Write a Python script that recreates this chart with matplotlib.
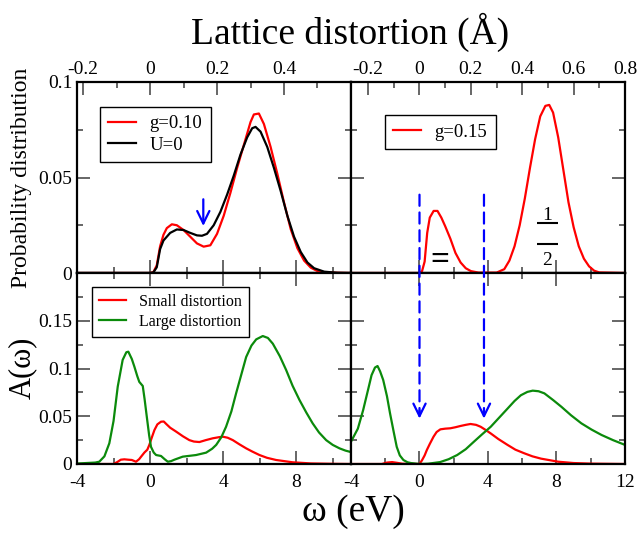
import matplotlib
matplotlib.use('Agg')
import matplotlib.pyplot as plt
from matplotlib.patches import ConnectionPatch
from matplotlib.ticker import FixedLocator, FixedFormatter, MultipleLocator, NullFormatter

plt.rcParams['font.family'] = ['Liberation Serif', 'DejaVu Serif']

# ---------------- data ----------------
# top-left: probability distribution vs lattice distortion (Angstrom)
tl_red_d = [-0.218, 0.0, 0.01, 0.02, 0.03, 0.04, 0.05, 0.065, 0.08, 0.10, 0.12, 0.14, 0.16, 0.18, 0.20,
            0.22, 0.24, 0.26, 0.28, 0.30, 0.31, 0.325, 0.34, 0.36, 0.38, 0.40, 0.42, 0.44, 0.46, 0.48,
            0.50, 0.53, 0.60]
tl_red_p = [0, 0, 0.0005, 0.004, 0.014, 0.020, 0.0235, 0.0255, 0.025, 0.0225, 0.019, 0.0155, 0.0138,
            0.0145, 0.0205, 0.030, 0.042, 0.055, 0.067, 0.079, 0.083, 0.0835, 0.078, 0.066, 0.052, 0.037,
            0.023, 0.013, 0.0065, 0.0028, 0.001, 0.0002, 0]
tl_blk_d = [-0.218, 0.0, 0.01, 0.02, 0.03, 0.04, 0.06, 0.08, 0.10, 0.12, 0.14, 0.155, 0.17, 0.19, 0.21,
            0.23, 0.25, 0.27, 0.29, 0.305, 0.315, 0.33, 0.35, 0.37, 0.39, 0.41, 0.43, 0.45, 0.47, 0.49,
            0.52, 0.56, 0.60]
tl_blk_p = [0, 0, 0.0003, 0.003, 0.0125, 0.017, 0.021, 0.0228, 0.0225, 0.021, 0.0197, 0.0195, 0.0205,
            0.025, 0.032, 0.041, 0.051, 0.062, 0.071, 0.0758, 0.0765, 0.074, 0.066, 0.055, 0.043, 0.030,
            0.019, 0.011, 0.0055, 0.0025, 0.0007, 0.0001, 0]

# top-right
tr_red_d = [-0.267, 0.0, 0.01, 0.02, 0.03, 0.04, 0.055, 0.07, 0.085, 0.10, 0.12, 0.14, 0.16, 0.18, 0.20,
            0.23, 0.30, 0.33, 0.35, 0.37, 0.39, 0.41, 0.43, 0.45, 0.47, 0.49, 0.505, 0.52, 0.54, 0.56,
            0.58, 0.60, 0.62, 0.64, 0.66, 0.68, 0.70, 0.80]
tr_red_p = [0, 0, 0.001, 0.006, 0.021, 0.029, 0.0325, 0.0325, 0.029, 0.0245, 0.018, 0.0105, 0.0055,
            0.0025, 0.001, 0.0002, 0.0002, 0.002, 0.0065, 0.014, 0.025, 0.039, 0.055, 0.070, 0.082,
            0.0875, 0.088, 0.084, 0.071, 0.054, 0.037, 0.024, 0.014, 0.0075, 0.0035, 0.0012, 0.0003, 0]

# bottom-left: spectral function vs omega (eV)
bl_grn_w = [-4, -3.5, -3.0, -2.78, -2.5, -2.23, -2.0, -1.77, -1.5, -1.3, -1.19, -1.0, -0.86, -0.7,
            -0.59, -0.4, -0.3, -0.18, -0.05, 0.05, 0.2, 0.33, 0.6, 0.8, 0.97, 1.15, 1.33, 1.79, 2.52,
            3.07, 3.4, 3.62, 3.9, 4.16, 4.45, 4.71, 5.0, 5.26, 5.55, 5.81, 6.17, 6.45, 6.72, 7.1, 7.45,
            7.8, 8.18, 8.55, 8.9, 9.25, 9.64, 10.0, 10.37, 10.7, 11.0]
bl_grn_a = [0.0005, 0.001, 0.0015, 0.0024, 0.008, 0.0217, 0.045, 0.081, 0.109, 0.117, 0.1176, 0.11,
            0.102, 0.092, 0.086, 0.0817, 0.068, 0.0496, 0.030, 0.018, 0.012, 0.0094, 0.0084, 0.005,
            0.0024, 0.003, 0.0045, 0.0077, 0.0094, 0.0119, 0.016, 0.020, 0.028, 0.039, 0.055, 0.074,
            0.094, 0.112, 0.124, 0.1305, 0.134, 0.132, 0.126, 0.113, 0.0984, 0.082, 0.067, 0.054,
            0.0426, 0.033, 0.025, 0.020, 0.0164, 0.014, 0.0125]
bl_red_w = [-4, -2.0, -1.8, -1.6, -1.41, -1.2, -1.0, -0.77, -0.6, -0.49, -0.31, -0.15, -0.04, 0.1, 0.24,
            0.4, 0.6, 0.75, 0.88, 1.1, 1.42, 1.8, 2.15, 2.4, 2.7, 3.05, 3.43, 3.75, 3.98, 4.25, 4.53,
            4.9, 5.26, 5.6, 5.99, 6.4, 6.9, 7.8, 8.8, 10.0, 11.0]
bl_red_a = [0, 0, 0.002, 0.0045, 0.0049, 0.0045, 0.0042, 0.0024, 0.005, 0.0077, 0.012, 0.015, 0.020,
            0.028, 0.0356, 0.0415, 0.0443, 0.0445, 0.042, 0.038, 0.034, 0.029, 0.025, 0.0235, 0.023,
            0.025, 0.0269, 0.028, 0.0286, 0.0275, 0.025, 0.0205, 0.0164, 0.013, 0.0094, 0.0065, 0.0042,
            0.0018, 0.0006, 0.0002, 0]

# bottom-right
br_grn_w = [-4, -3.6, -3.29, -3.0, -2.8, -2.6, -2.45, -2.3, -2.12, -1.9, -1.72, -1.5, -1.33, -1.15,
            -0.94, -0.7, -0.5, 0, 0.5, 1.2, 1.7, 2.2, 2.7, 3.18, 3.65, 4.16, 4.65, 5.14, 5.55, 5.92, 6.3,
            6.61, 6.95, 7.29, 7.8, 8.28, 8.85, 9.45, 10.05, 10.63, 11.3, 12]
br_grn_a = [0.0234, 0.037, 0.0565, 0.078, 0.093, 0.101, 0.1026, 0.097, 0.088, 0.071, 0.053, 0.033,
            0.018, 0.009, 0.0042, 0.0018, 0.001, 0, 0.0003, 0.002, 0.005, 0.0094, 0.0155, 0.0234, 0.031,
            0.039, 0.0485, 0.058, 0.066, 0.072, 0.0755, 0.0768, 0.0762, 0.074, 0.067, 0.060, 0.051,
            0.0426, 0.036, 0.0304, 0.025, 0.020]
br_red_w = [-4, -2.2, -1.9, -1.6, -1.3, -1.0, 0, 0.15, 0.3, 0.43, 0.6, 0.82, 1.0, 1.22, 1.5, 1.8, 2.1,
            2.39, 2.7, 2.98, 3.3, 3.57, 3.85, 4.16, 4.6, 5.14, 5.6, 6.12, 6.6, 7.1, 8.1, 9.0, 10.0, 12]
br_red_a = [0, 0, 0.0015, 0.002, 0.0012, 0.0003, 0, 0.004, 0.009, 0.0147, 0.021, 0.0286, 0.0335,
            0.0363, 0.037, 0.0374, 0.0385, 0.0398, 0.041, 0.0419, 0.041, 0.039, 0.0358, 0.032, 0.0262,
            0.020, 0.015, 0.0112, 0.008, 0.0056, 0.0024, 0.001, 0.0004, 0]

# ticks / labels
top_y_ticks = [0, 0.05, 0.1]
top_y_labels = ['0', '0.05', '0.1']
bot_y_ticks = [0, 0.05, 0.1, 0.15]
bot_y_labels = ['0', '0.05', '0.1', '0.15']
left_w_ticks = [-4, 0, 4, 8]
left_w_labels = ['-4', '0', '4', '8']
right_w_ticks = [-4, 0, 4, 8, 12]
right_w_labels = ['-4', '0', '4', '8', '12']
tl_d_ticks = [-0.2, 0, 0.2, 0.4]
tl_d_labels = ['-0.2', '0', '0.2', '0.4']
tr_d_ticks = [-0.2, 0, 0.2, 0.4, 0.6, 0.8]
tr_d_labels = ['-0.2', '0', '0.2', '0.4', '0.6', '0.8']

# energy (eV) per unit distortion (Angstrom) for each column
ratio_left = 18.33
ratio_right = 15.0
w_left = (-4, 11)
w_right = (-4, 12)
arrow_positions_d = [0.0, 0.251]   # blue dashed arrows in right column (Angstrom)

# "1 / 2" annotation in top-right (distortion, probability)
frac_x = 0.497
frac_bar_span = (0.4576, 0.540)
frac_bar_levels = [0.0262, 0.0152]

RED = '#ff0000'
GRN = '#0b8a0b'
BLUE = '#0000ff'
TICKC = '#5a5a5a'

# ---------------- figure ----------------
W, H = 637, 533
fig = plt.figure(figsize=(W / 100, H / 100), dpi=100)

def frac(x0, y0, x1, y1):
    return [x0 / W, 1 - y1 / H, (x1 - x0) / W, (y1 - y0) / H]

ax_tl = fig.add_axes(frac(77, 82, 351, 273))
ax_tr = fig.add_axes(frac(351, 82, 625, 273))
ax_bl = fig.add_axes(frac(77, 273, 351, 464))
ax_br = fig.add_axes(frac(351, 273, 625, 464))

TICKFS = 14

def style_common(ax):
    for s in ax.spines.values():
        s.set_linewidth(1.6)
        s.set_color('black')
    ax.tick_params(which='both', direction='in', color=TICKC, width=1.3, labelsize=TICKFS)
    ax.tick_params(which='major', length=9.5)
    ax.tick_params(which='minor', length=4.5)

# ---- top panels ----
for ax, ratio, wr, dticks, dlabels in [
        (ax_tl, ratio_left, w_left, tl_d_ticks, tl_d_labels),
        (ax_tr, ratio_right, w_right, tr_d_ticks, tr_d_labels)]:
    style_common(ax)
    ax.set_xlim(wr[0] / ratio, wr[1] / ratio)
    ax.set_ylim(0, 0.1)
    ax.xaxis.tick_top()
    ax.xaxis.set_label_position('top')
    ax.xaxis.set_major_locator(FixedLocator(dticks))
    ax.xaxis.set_major_formatter(FixedFormatter(dlabels))
    ax.xaxis.set_minor_locator(MultipleLocator(0.1))
    ax.tick_params(axis='x', which='both', top=True, bottom=False, pad=3)
    ax.yaxis.set_major_locator(FixedLocator(top_y_ticks))
    ax.yaxis.set_minor_locator(MultipleLocator(0.025))
    ax.tick_params(axis='y', which='both', left=True, right=True)
    r = ratio
    sec = ax.secondary_xaxis('bottom', functions=(lambda d, r=r: d * r, lambda w, r=r: w / r))
    sec.xaxis.set_major_locator(MultipleLocator(4))
    sec.xaxis.set_minor_locator(MultipleLocator(2))
    sec.xaxis.set_major_formatter(NullFormatter())
    sec.tick_params(which='both', direction='in', color=TICKC, width=1.3)
    sec.tick_params(which='major', length=9.5)
    sec.tick_params(which='minor', length=4.5)
    sec.spines['bottom'].set_linewidth(1.6)

ax_tl.yaxis.set_major_formatter(FixedFormatter(top_y_labels))
ax_tr.yaxis.set_major_formatter(NullFormatter())

ax_tl.plot(tl_red_d, tl_red_p, color=RED, lw=1.6, label='g=0.10')
ax_tl.plot(tl_blk_d, tl_blk_p, color='black', lw=1.6, label='U=0')
ax_tr.plot(tr_red_d, tr_red_p, color=RED, lw=1.6, label='g=0.15')

leg_kw = dict(frameon=True, fancybox=False, edgecolor='black', framealpha=1, borderaxespad=0,
              labelspacing=0.25, borderpad=0.45)
lg = ax_tl.legend(loc='upper left', bbox_to_anchor=(0.084, 0.871), fontsize=13.5,
                  handlelength=1.45, handletextpad=0.75, **leg_kw)
lg.get_frame().set_linewidth(1.0)
lg = ax_tr.legend(loc='upper left', bbox_to_anchor=(0.124, 0.827), fontsize=13.5,
                  handlelength=1.45, handletextpad=0.75, **leg_kw)
lg.get_frame().set_linewidth(1.0)

# blue arrow in top-left
ax_tl.annotate('', xy=(0.159, 0.0246), xytext=(0.159, 0.0386),
               arrowprops=dict(arrowstyle='->,head_length=0.45,head_width=0.22', color=BLUE,
                               lw=1.6, mutation_scale=20, shrinkA=0, shrinkB=0))

# symbols in top-right
ax_tr.text(0.081, 0.0068, '=', fontsize=24, fontweight='bold', ha='center', va='center')
ax_tr.text(frac_x, 0.0280, '1', fontsize=14, ha='center', va='baseline')
ax_tr.text(frac_x, 0.0040, '2', fontsize=14, ha='center', va='baseline')
for lev in frac_bar_levels:
    ax_tr.plot(frac_bar_span, [lev, lev], color='black', lw=1.5, solid_capstyle='butt')

# ---- bottom panels ----
for ax, wr, wt, wl in [(ax_bl, w_left, left_w_ticks, left_w_labels),
                       (ax_br, w_right, right_w_ticks, right_w_labels)]:
    style_common(ax)
    ax.set_xlim(*wr)
    ax.set_ylim(0, 0.2)
    ax.xaxis.set_major_locator(FixedLocator(wt))
    ax.xaxis.set_major_formatter(FixedFormatter(wl))
    ax.xaxis.set_minor_locator(MultipleLocator(2))
    ax.yaxis.set_major_locator(FixedLocator(bot_y_ticks + [0.2]))
    ax.yaxis.set_minor_locator(MultipleLocator(0.025))
    ax.tick_params(axis='both', which='both', top=True, bottom=True, left=True, right=True)
    ax.tick_params(axis='x', pad=7)

ax_bl.yaxis.set_major_formatter(FixedFormatter(bot_y_labels + ['']))
ax_br.yaxis.set_major_formatter(NullFormatter())

ax_bl.plot(bl_red_w, bl_red_a, color=RED, lw=1.6, label='Small distortion')
ax_bl.plot(bl_grn_w, bl_grn_a, color=GRN, lw=1.6, label='Large distortion')
ax_br.plot(br_red_w, br_red_a, color=RED, lw=1.6)
ax_br.plot(br_grn_w, br_grn_a, color=GRN, lw=1.6)

lg = ax_bl.legend(loc='upper left', bbox_to_anchor=(0.054, 0.928), fontsize=11.5,
                  handlelength=1.7, handletextpad=0.8, **leg_kw)
lg.get_frame().set_linewidth(1.0)

# dashed blue arrows crossing from top-right to bottom-right
for d in arrow_positions_d:
    w = d * ratio_right
    cp = ConnectionPatch(xyA=(d, 0.041), coordsA=ax_tr.transData,
                         xyB=(w, 0.052), coordsB=ax_br.transData,
                         color=BLUE, lw=1.6, linestyle=(0, (5, 3)), zorder=5)
    fig.add_artist(cp)
    ax_br.annotate('', xy=(w, 0.0475), xytext=(w, 0.056),
                   arrowprops=dict(arrowstyle='->,head_length=0.45,head_width=0.22', color=BLUE,
                                   lw=1.6, mutation_scale=20, shrinkA=0, shrinkB=0))

# axis titles
fig.text(350 / W, 1 - 32 / H, 'Lattice distortion (Å)', fontsize=27, ha='center', va='center')
fig.text(353 / W, 1 - 512 / H, 'ω (eV)', fontsize=27, ha='center', va='center')
fig.text(22 / W, 1 - 178 / H, 'Probability distribution', fontsize=17, rotation=90,
         ha='center', va='center')
fig.text(22 / W, 1 - 368 / H, 'A(ω)', fontsize=22, rotation=90, ha='center', va='center')

fig.savefig('out.png', dpi=100)
